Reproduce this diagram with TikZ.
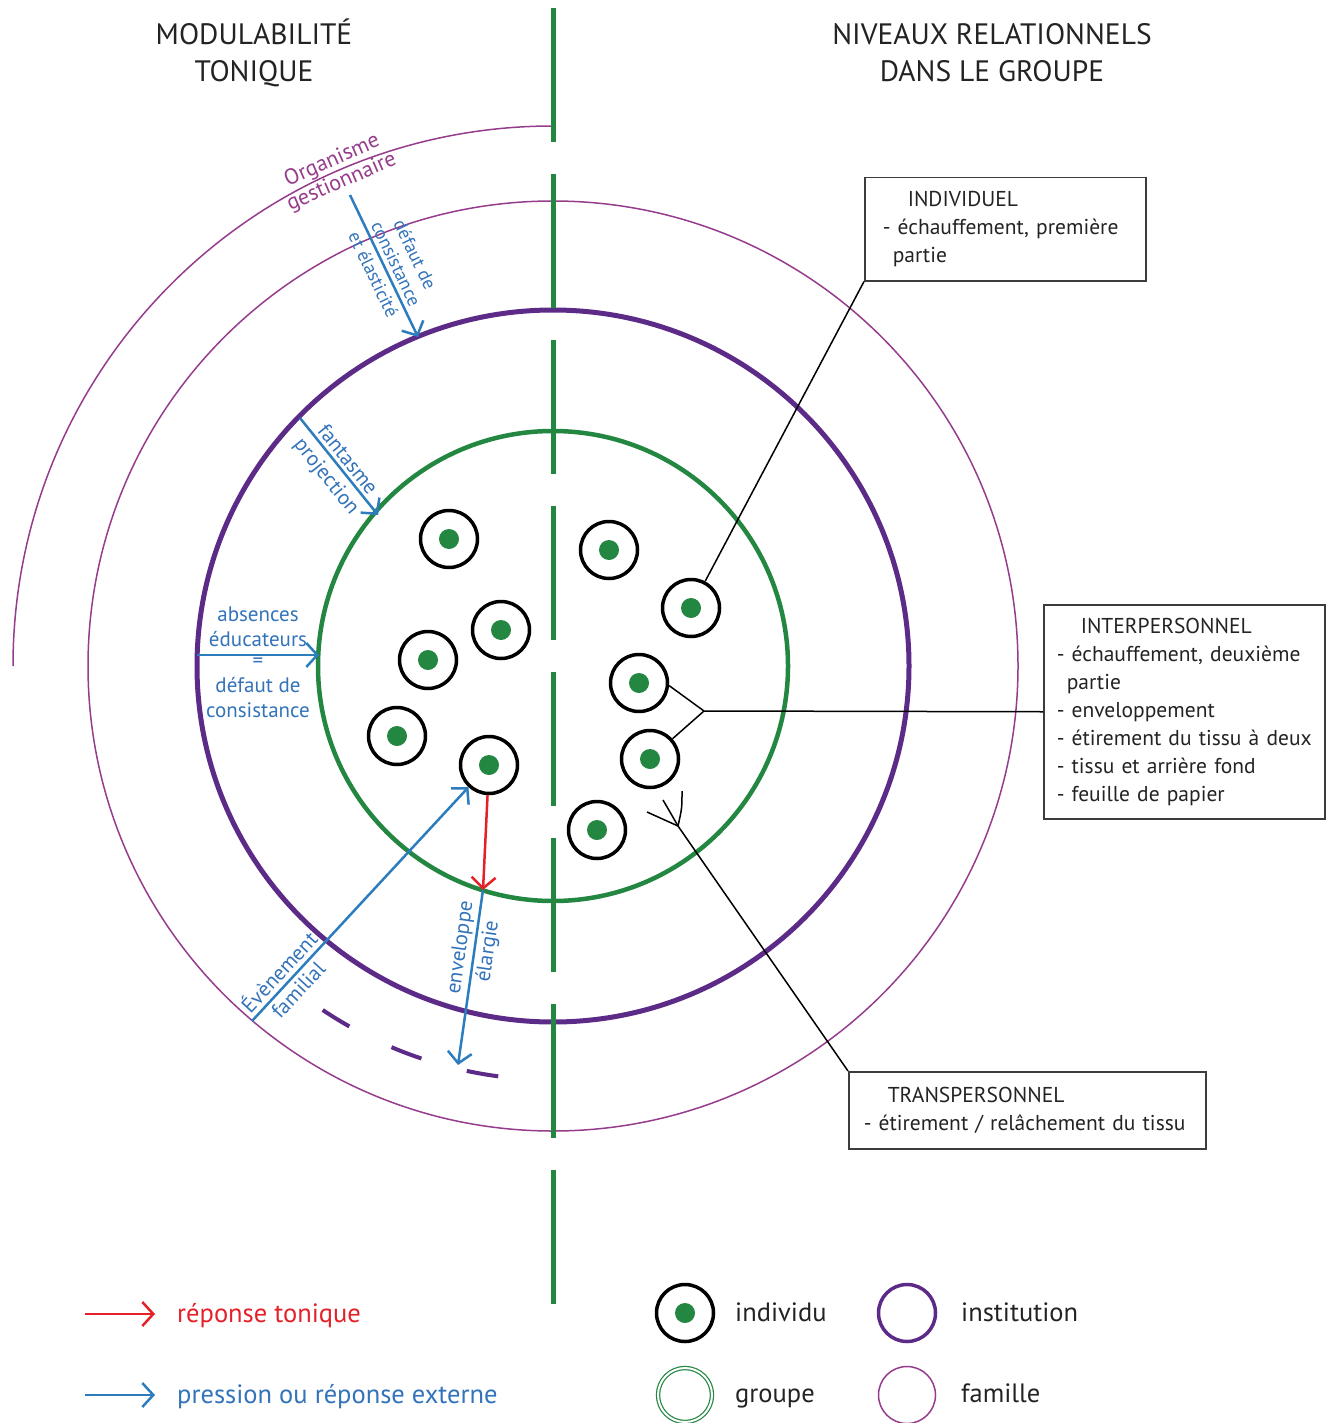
\documentclass[tikz,border=0pt]{standalone}
\usepackage{fontspec}
\setmainfont{PT Sans}
\usetikzlibrary{arrows.meta}
\definecolor{grn}{RGB}{35,135,65}
\definecolor{purp}{RGB}{92,42,135}
\definecolor{fam}{RGB}{150,60,140}
\definecolor{blu}{RGB}{45,125,190}
\definecolor{blut}{RGB}{50,115,185}
\definecolor{rd}{RGB}{228,32,40}
\definecolor{boxc}{RGB}{60,60,60}
\definecolor{txtc}{RGB}{35,35,35}
\begin{document}
\begin{tikzpicture}[x=1pt,y=-1pt,
  indiv/.style={circle,draw=black,line width=3.5pt,minimum size=57pt,inner sep=0pt,
     path picture={\fill[grn] (path picture bounding box.center) circle[radius=10pt];}},
  barrow/.style={draw=blu,line width=2.5pt,-{Straight Barb[length=11pt,width=24pt]}},
  rarrow/.style={draw=rd,line width=2.5pt,-{Straight Barb[length=11pt,width=24pt]}},
  btxt/.style={text=blut,font=\fontsize{21}{25}\selectfont,align=center,inner sep=1pt},
  btxts/.style={text=blut,font=\fontsize{18.5}{21}\selectfont,align=center,inner sep=1pt},
  box/.style={draw=boxc,line width=1.5pt,text=txtc,font=\fontsize{21.5}{28}\selectfont,align=left,anchor=north west},
  conn/.style={draw=black,line width=1.5pt},
  head/.style={text=txtc,font=\fontsize{29.5}{37}\selectfont,align=center},
  leg/.style={anchor=base west,font=\fontsize{26.5}{28}\selectfont,inner sep=0pt,text=txtc},
]
\useasboundingbox (0,0) rectangle (1337,1423);
\coordinate (c) at (553,666);

% headers
\node[head] (h1) at (254,53) {MODULABILITÉ\\TONIQUE};
\node[head] (h2) at (992,53) {NIVEAUX RELATIONNELS\\DANS LE GROUPE};

% outer arc (organisme gestionnaire)
\draw[fam,line width=1.5pt] (553,126) arc[start angle=270,end angle=180,radius=540];
\node[text=fam,font=\fontsize{22}{24}\selectfont,anchor=south,rotate=23.6,inner sep=1pt] (org) at ([shift={(246.4:540)}]c) {Organisme};
\node[text=fam,font=\fontsize{22}{24}\selectfont,anchor=north,rotate=23.6,inner sep=2pt] (gest) at ([shift={(246.4:540)}]c) {gestionnaire};

% family circle, institution, group
\draw[fam,line width=1.5pt] (c) circle[radius=465];
\draw[purp,line width=5pt] (c) circle[radius=356];
\draw[grn,line width=4.5pt] (c) circle[radius=235];
\draw[purp,line width=4pt,dash pattern=on 32pt off 47pt] ([shift={(97.6:414)}]c) arc[start angle=97.6,end angle=123.8,radius=414];

% vertical dashed line
\draw[grn,line width=5pt,dash pattern=on 134pt off 32pt] (553,8) -- (553,1312);

% individuals
\node[indiv] (i1) at (449,539) {};
\node[indiv] (i2) at (501,630) {};
\node[indiv] (i3) at (428,660) {};
\node[indiv] (i4) at (397,736) {};
\node[indiv] (i5) at (489,765) {};
\node[indiv] (i6) at (609,550) {};
\node[indiv] (i7) at (691,608) {};
\node[indiv] (i8) at (639,683) {};
\node[indiv] (i9) at (650,759) {};
\node[indiv] (i10) at (597,830) {};

% blue / red arrows
\coordinate (dA) at (350,195);
\coordinate (dB) at (418,337);
\draw[barrow] (dA) -- (dB)
  node[pos=0.52,sloped,above=3pt,btxts] {défaut de\\consistance}
  node[pos=0.52,sloped,below=4pt,btxts] {et élasticité};

\coordinate (fA) at (300,418);
\coordinate (fB) at (378,515);
\draw[barrow] (fA) -- (fB)
  node[pos=0.5,sloped,above=2pt,btxt] {fantasme}
  node[pos=0.5,sloped,below=5pt,btxt] {projection};

\coordinate (aA) at (197,655);
\coordinate (aB) at (319,655);
\draw[barrow] (aA) -- (aB)
  node[midway,above=6pt,btxt] {absences\\éducateurs}
  node[midway,below=1pt,btxt] {=\\défaut de\\consistance};

\coordinate (eA) at (252,1021);
\draw[barrow] (eA) -- (i5)
  node[pos=0.17,sloped,above=3pt,btxt] {Évènement}
  node[pos=0.17,sloped,below=3pt,btxt] {familial};

\coordinate (E) at (483,890);
\coordinate (envB) at (458,1065);
\draw[rarrow] (i5) -- (E);
\draw[barrow] (E) -- (envB)
  node[pos=0.34,sloped,above=2pt,btxt] {enveloppe}
  node[pos=0.34,sloped,below=2pt,btxt] {élargie};

% boxes
\node[box,inner xsep=18pt,text width=245pt,minimum height=103pt] (ind) at (864,177)
  {\mbox{\hspace*{25pt}INDIVIDUEL}\\\mbox{- échauffement, première}\\\mbox{\hspace*{10pt}partie}};
\node[box,inner xsep=13pt,text width=255pt,minimum height=214pt] (inter) at (1043,604)
  {\mbox{\hspace*{24pt}INTERPERSONNEL}\\\mbox{- échauffement, deuxième}\\\mbox{\hspace*{10pt}partie}\\\mbox{- enveloppement}\\\mbox{- étirement du tissu à deux}\\\mbox{- tissu et arrière fond}\\\mbox{- feuille de papier}};
\node[box,inner xsep=15pt,text width=327pt,minimum height=77pt] (tp) at (848,1071)
  {\mbox{\hspace*{24pt}TRANSPERSONNEL}\\\mbox{- étirement / relâchement du tissu}};

% connectors
\draw[conn] (ind.south west) -- (i7);
\coordinate (J) at (704,711);
\draw[conn] (inter.west) -- (J);
\draw[conn] (J) -- (i8.-5);
\draw[conn] (J) -- (i9.42);
\coordinate (P) at (678,826);
\draw[conn] (tp.north west) -- (P);
\draw[conn] (647,812) -- (P);
\draw[conn] (663,800) .. controls (670,812) .. (P);
\draw[conn] (682,791) .. controls (682,808) .. (P);

% legend
\coordinate (lr1) at (85,1314);
\coordinate (lr2) at (155,1314);
\draw[rarrow] (lr1) -- (lr2);
\node[leg,text=rd] (ltr) at (177,1322) {réponse tonique};
\coordinate (lb1) at (85,1395);
\coordinate (lb2) at (155,1395);
\draw[barrow] (lb1) -- (lb2);
\node[leg,text=blut] (ltb) at (177,1403) {pression ou réponse externe};

\node[indiv] (li) at (685,1313) {};
\node[leg] (lti) at (735,1321) {individu};
\node[circle,draw=purp,line width=3.5pt,minimum size=57pt,inner sep=0pt] (linst) at (907,1313) {};
\node[leg] (ltinst) at (961,1321) {institution};
\node[circle,draw=grn,line width=1.2pt,double=white,double distance=2pt,minimum size=54pt,inner sep=0pt] (lg) at (685,1395) {};
\node[leg] (ltg) at (735,1402) {groupe};
\node[circle,draw=fam,line width=1.5pt,minimum size=57pt,inner sep=0pt] (lf) at (907,1395) {};
\node[leg] (ltf) at (961,1402) {famille};
\end{tikzpicture}
\end{document}
